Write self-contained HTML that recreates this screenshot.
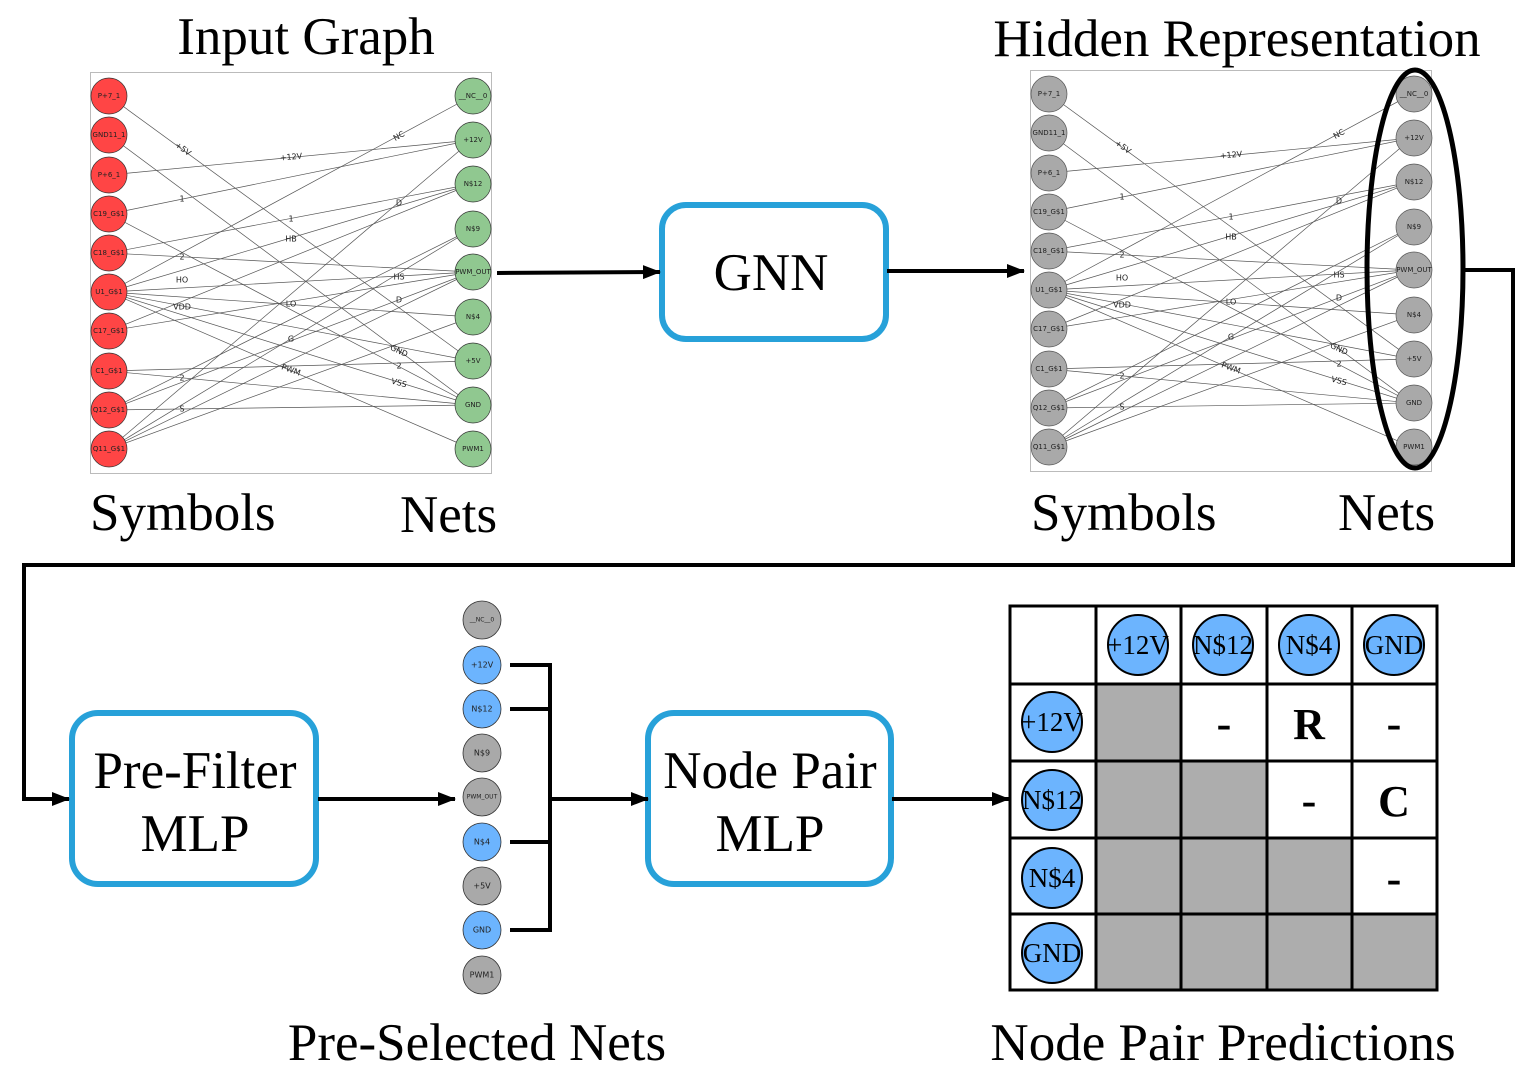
<!DOCTYPE html>
<html><head><meta charset="utf-8"><style>
html,body{margin:0;padding:0;background:#fff;}
svg{display:block;}
.t{font-family:"Liberation Serif",serif;fill:#000;}
.n{font-family:"DejaVu Sans","Liberation Sans",sans-serif;font-size:7px;fill:#222;text-anchor:middle;dominant-baseline:central;}
.el{font-family:"DejaVu Sans","Liberation Sans",sans-serif;font-size:8px;fill:#222;text-anchor:middle;dominant-baseline:central;}
.e line{stroke:#555;stroke-width:0.7;}
.tb{font-family:"Liberation Serif",serif;font-size:27px;text-anchor:middle;dominant-baseline:central;fill:#000;}
</style></head><body>
<svg width="1536" height="1084" viewBox="0 0 1536 1084" xmlns="http://www.w3.org/2000/svg">
<defs>
<marker id="ah2" markerWidth="18" markerHeight="14" refX="17" refY="7" orient="auto" markerUnits="userSpaceOnUse"><path d="M0,0 L18,7 L0,14 z" fill="#000"/></marker>
</defs>

<!-- Titles -->
<text class="t" x="306" y="54" font-size="53" text-anchor="middle">Input Graph</text>
<text class="t" x="1237" y="56" font-size="53" text-anchor="middle">Hidden Representation</text>
<text class="t" x="90" y="530" font-size="53">Symbols</text>
<text class="t" x="400" y="532" font-size="53">Nets</text>
<text class="t" x="1031" y="530" font-size="53">Symbols</text>
<text class="t" x="1338" y="530" font-size="53">Nets</text>
<text class="t" x="477" y="1060" font-size="53" text-anchor="middle">Pre-Selected Nets</text>
<text class="t" x="1223" y="1060" font-size="53" text-anchor="middle">Node Pair Predictions</text>

<!-- Input graph -->
<g id="g1">
<rect x="90.5" y="72.5" width="401" height="401" fill="#fff" stroke="#bbb" stroke-width="1"/>
<g class="e">
<line x1="109" y1="96" x2="472" y2="361"/>
<line x1="109" y1="135" x2="472" y2="405"/>
<line x1="109" y1="175" x2="472" y2="140"/>
<line x1="109" y1="214" x2="472" y2="140"/>
<line x1="109" y1="214" x2="472" y2="405"/>
<line x1="109" y1="253" x2="472" y2="184"/>
<line x1="109" y1="253" x2="472" y2="272"/>
<line x1="109" y1="292" x2="472" y2="96"/>
<line x1="109" y1="292" x2="472" y2="184"/>
<line x1="109" y1="292" x2="472" y2="272"/>
<line x1="109" y1="292" x2="472" y2="317"/>
<line x1="109" y1="292" x2="472" y2="361"/>
<line x1="109" y1="292" x2="472" y2="405"/>
<line x1="109" y1="292" x2="472" y2="449"/>
<line x1="109" y1="331" x2="472" y2="184"/>
<line x1="109" y1="331" x2="472" y2="272"/>
<line x1="109" y1="371" x2="472" y2="361"/>
<line x1="109" y1="371" x2="472" y2="405"/>
<line x1="109" y1="410" x2="472" y2="229"/>
<line x1="109" y1="410" x2="472" y2="272"/>
<line x1="109" y1="410" x2="472" y2="405"/>
<line x1="109" y1="449" x2="472" y2="140"/>
<line x1="109" y1="449" x2="472" y2="272"/>
<line x1="109" y1="449" x2="472" y2="317"/>
<line x1="109" y1="449" x2="472" y2="229"/>
</g>
<g>
<text class="el" x="183" y="149" transform="rotate(36 183 149)">+5V</text>
<text class="el" x="291" y="157" transform="rotate(-5 291 157)">+12V</text>
<text class="el" x="399" y="136" transform="rotate(-30 399 136)">NC</text>
<text class="el" x="182" y="199">1</text>
<text class="el" x="291" y="219">1</text>
<text class="el" x="399" y="203">D</text>
<text class="el" x="291" y="239">HB</text>
<text class="el" x="182" y="257">2</text>
<text class="el" x="182" y="280">HO</text>
<text class="el" x="182" y="307">VDD</text>
<text class="el" x="291" y="304">LO</text>
<text class="el" x="399" y="277">HS</text>
<text class="el" x="399" y="300">D</text>
<text class="el" x="291" y="339">G</text>
<text class="el" x="399" y="351" transform="rotate(25 399 351)">GND</text>
<text class="el" x="291" y="370" transform="rotate(20 291 370)">PWM</text>
<text class="el" x="399" y="366">2</text>
<text class="el" x="399" y="383" transform="rotate(15 399 383)">VSS</text>
<text class="el" x="182" y="378">2</text>
<text class="el" x="182" y="409">S</text>
</g>
<g fill="#ff4545" stroke="#333" stroke-width="0.7">
<circle cx="109" cy="96" r="18"/><circle cx="109" cy="135" r="18"/><circle cx="109" cy="175" r="18"/><circle cx="109" cy="214" r="18"/><circle cx="109" cy="253" r="18"/><circle cx="109" cy="292" r="18"/><circle cx="109" cy="331" r="18"/><circle cx="109" cy="371" r="18"/><circle cx="109" cy="410" r="18"/><circle cx="109" cy="449" r="18"/>
</g>
<g fill="#90c890" stroke="#333" stroke-width="0.7">
<circle cx="473" cy="96" r="18"/><circle cx="473" cy="140" r="18"/><circle cx="473" cy="184" r="18"/><circle cx="473" cy="229" r="18"/><circle cx="473" cy="272" r="18"/><circle cx="473" cy="317" r="18"/><circle cx="473" cy="361" r="18"/><circle cx="473" cy="405" r="18"/><circle cx="473" cy="449" r="18"/>
</g>
<g>
<text class="n" x="109" y="96">P+7_1</text><text class="n" x="109" y="135">GND11_1</text><text class="n" x="109" y="175">P+6_1</text><text class="n" x="109" y="214">C19_G$1</text><text class="n" x="109" y="253">C18_G$1</text><text class="n" x="109" y="292">U1_G$1</text><text class="n" x="109" y="331">C17_G$1</text><text class="n" x="109" y="371">C1_G$1</text><text class="n" x="109" y="410">Q12_G$1</text><text class="n" x="109" y="449">Q11_G$1</text>
<text class="n" x="473" y="96">__NC__0</text><text class="n" x="473" y="140">+12V</text><text class="n" x="473" y="184">N$12</text><text class="n" x="473" y="229">N$9</text><text class="n" x="473" y="272">PWM_OUT</text><text class="n" x="473" y="317">N$4</text><text class="n" x="473" y="361">+5V</text><text class="n" x="473" y="405">GND</text><text class="n" x="473" y="449">PWM1</text>
</g>
</g>

<!-- Hidden graph -->
<g transform="translate(940,-2)">
<rect x="90.5" y="72.5" width="401" height="401" fill="#fff" stroke="#bbb" stroke-width="1"/>
<g class="e">
<line x1="109" y1="96" x2="472" y2="361"/>
<line x1="109" y1="135" x2="472" y2="405"/>
<line x1="109" y1="175" x2="472" y2="140"/>
<line x1="109" y1="214" x2="472" y2="140"/>
<line x1="109" y1="214" x2="472" y2="405"/>
<line x1="109" y1="253" x2="472" y2="184"/>
<line x1="109" y1="253" x2="472" y2="272"/>
<line x1="109" y1="292" x2="472" y2="96"/>
<line x1="109" y1="292" x2="472" y2="184"/>
<line x1="109" y1="292" x2="472" y2="272"/>
<line x1="109" y1="292" x2="472" y2="317"/>
<line x1="109" y1="292" x2="472" y2="361"/>
<line x1="109" y1="292" x2="472" y2="405"/>
<line x1="109" y1="292" x2="472" y2="449"/>
<line x1="109" y1="331" x2="472" y2="184"/>
<line x1="109" y1="331" x2="472" y2="272"/>
<line x1="109" y1="371" x2="472" y2="361"/>
<line x1="109" y1="371" x2="472" y2="405"/>
<line x1="109" y1="410" x2="472" y2="229"/>
<line x1="109" y1="410" x2="472" y2="272"/>
<line x1="109" y1="410" x2="472" y2="405"/>
<line x1="109" y1="449" x2="472" y2="140"/>
<line x1="109" y1="449" x2="472" y2="272"/>
<line x1="109" y1="449" x2="472" y2="317"/>
<line x1="109" y1="449" x2="472" y2="229"/>
</g>
<g>
<text class="el" x="183" y="149" transform="rotate(36 183 149)">+5V</text>
<text class="el" x="291" y="157" transform="rotate(-5 291 157)">+12V</text>
<text class="el" x="399" y="136" transform="rotate(-30 399 136)">NC</text>
<text class="el" x="182" y="199">1</text>
<text class="el" x="291" y="219">1</text>
<text class="el" x="399" y="203">D</text>
<text class="el" x="291" y="239">HB</text>
<text class="el" x="182" y="257">2</text>
<text class="el" x="182" y="280">HO</text>
<text class="el" x="182" y="307">VDD</text>
<text class="el" x="291" y="304">LO</text>
<text class="el" x="399" y="277">HS</text>
<text class="el" x="399" y="300">D</text>
<text class="el" x="291" y="339">G</text>
<text class="el" x="399" y="351" transform="rotate(25 399 351)">GND</text>
<text class="el" x="291" y="370" transform="rotate(20 291 370)">PWM</text>
<text class="el" x="399" y="366">2</text>
<text class="el" x="399" y="383" transform="rotate(15 399 383)">VSS</text>
<text class="el" x="182" y="378">2</text>
<text class="el" x="182" y="409">S</text>
</g>
<g fill="#a9a9a9" stroke="#555" stroke-width="0.7">
<circle cx="109" cy="96" r="18"/><circle cx="109" cy="135" r="18"/><circle cx="109" cy="175" r="18"/><circle cx="109" cy="214" r="18"/><circle cx="109" cy="253" r="18"/><circle cx="109" cy="292" r="18"/><circle cx="109" cy="331" r="18"/><circle cx="109" cy="371" r="18"/><circle cx="109" cy="410" r="18"/><circle cx="109" cy="449" r="18"/>
<circle cx="474" cy="96" r="18"/><circle cx="474" cy="140" r="18"/><circle cx="474" cy="184" r="18"/><circle cx="474" cy="229" r="18"/><circle cx="474" cy="272" r="18"/><circle cx="474" cy="317" r="18"/><circle cx="474" cy="361" r="18"/><circle cx="474" cy="405" r="18"/><circle cx="474" cy="449" r="18"/>
</g>
<g>
<text class="n" x="109" y="96">P+7_1</text><text class="n" x="109" y="135">GND11_1</text><text class="n" x="109" y="175">P+6_1</text><text class="n" x="109" y="214">C19_G$1</text><text class="n" x="109" y="253">C18_G$1</text><text class="n" x="109" y="292">U1_G$1</text><text class="n" x="109" y="331">C17_G$1</text><text class="n" x="109" y="371">C1_G$1</text><text class="n" x="109" y="410">Q12_G$1</text><text class="n" x="109" y="449">Q11_G$1</text>
<text class="n" x="474" y="96">__NC__0</text><text class="n" x="474" y="140">+12V</text><text class="n" x="474" y="184">N$12</text><text class="n" x="474" y="229">N$9</text><text class="n" x="474" y="272">PWM_OUT</text><text class="n" x="474" y="317">N$4</text><text class="n" x="474" y="361">+5V</text><text class="n" x="474" y="405">GND</text><text class="n" x="474" y="449">PWM1</text>
</g>
</g>

<!-- Ellipse -->
<ellipse cx="1415" cy="269" rx="48" ry="199" fill="none" stroke="#000" stroke-width="5"/>

<!-- Boxes -->
<rect x="662" y="205" width="224" height="134" rx="24" fill="#fff" stroke="#27a1d9" stroke-width="6"/>
<text class="t" x="771" y="290" font-size="53" text-anchor="middle">GNN</text>
<rect x="72" y="713" width="244" height="171" rx="26" fill="#fff" stroke="#27a1d9" stroke-width="6"/>
<text class="t" x="195" y="788" font-size="53" text-anchor="middle">Pre-Filter</text>
<text class="t" x="195" y="851" font-size="53" text-anchor="middle">MLP</text>
<rect x="648" y="713" width="243" height="171" rx="26" fill="#fff" stroke="#27a1d9" stroke-width="6"/>
<text class="t" x="770" y="788" font-size="53" text-anchor="middle">Node Pair</text>
<text class="t" x="770" y="851" font-size="53" text-anchor="middle">MLP</text>

<!-- Connectors -->
<g stroke="#000" stroke-width="4" fill="none">
<line x1="497" y1="273" x2="660" y2="272" marker-end="url(#ah2)"/>
<line x1="887" y1="271" x2="1024" y2="271" marker-end="url(#ah2)"/>
<polyline points="1465,270 1513,270 1513,565 24,565 24,799 69,799" marker-end="url(#ah2)"/>
<line x1="318" y1="799" x2="455" y2="799" marker-end="url(#ah2)"/>
<polyline points="510,665 550,665 550,930 510,930"/>
<line x1="510" y1="709" x2="550" y2="709"/>
<line x1="510" y1="842" x2="550" y2="842"/>
<line x1="550" y1="799" x2="648" y2="799" marker-end="url(#ah2)"/>
<line x1="892" y1="799" x2="1009" y2="799" marker-end="url(#ah2)"/>
</g>

<!-- Pre-selected nets -->
<g stroke="#333" stroke-width="0.8">
<circle cx="482" cy="620" r="19" fill="#a9a9a9"/>
<circle cx="482" cy="665" r="19" fill="#6cb4fe"/>
<circle cx="482" cy="709" r="19" fill="#6cb4fe"/>
<circle cx="482" cy="753" r="19" fill="#a9a9a9"/>
<circle cx="482" cy="797" r="19" fill="#a9a9a9"/>
<circle cx="482" cy="842" r="19" fill="#6cb4fe"/>
<circle cx="482" cy="886" r="19" fill="#a9a9a9"/>
<circle cx="482" cy="930" r="19" fill="#6cb4fe"/>
<circle cx="482" cy="975" r="19" fill="#a9a9a9"/>
</g>
<g>
<text class="n" x="482" y="620" style="font-size:6px">__NC__0</text>
<text class="n" x="482" y="665" style="font-size:8px">+12V</text>
<text class="n" x="482" y="709" style="font-size:8px">N$12</text>
<text class="n" x="482" y="753" style="font-size:8px">N$9</text>
<text class="n" x="482" y="797" style="font-size:6px">PWM_OUT</text>
<text class="n" x="482" y="842" style="font-size:8px">N$4</text>
<text class="n" x="482" y="886" style="font-size:8px">+5V</text>
<text class="n" x="482" y="930" style="font-size:8px">GND</text>
<text class="n" x="482" y="975" style="font-size:8px">PWM1</text>
</g>

<!-- Table -->
<g fill="#adadad">
<rect x="1096" y="684" width="85" height="77"/>
<rect x="1096" y="761" width="171" height="77"/>
<rect x="1096" y="838" width="256" height="76"/>
<rect x="1096" y="914" width="341" height="76"/>
</g>
<g stroke="#000" stroke-width="3" fill="none">
<rect x="1010" y="606" width="427" height="384"/>
<line x1="1096" y1="606" x2="1096" y2="990"/>
<line x1="1181" y1="606" x2="1181" y2="990"/>
<line x1="1267" y1="606" x2="1267" y2="990"/>
<line x1="1352" y1="606" x2="1352" y2="990"/>
<line x1="1010" y1="684" x2="1437" y2="684"/>
<line x1="1010" y1="761" x2="1437" y2="761"/>
<line x1="1010" y1="838" x2="1437" y2="838"/>
<line x1="1010" y1="914" x2="1437" y2="914"/>
</g>
<g fill="#6cb4fe" stroke="#000" stroke-width="2">
<circle cx="1138" cy="645" r="30"/><circle cx="1223" cy="645" r="30"/><circle cx="1309" cy="645" r="30"/><circle cx="1394" cy="645" r="30"/>
<circle cx="1052" cy="722" r="30"/><circle cx="1052" cy="800" r="30"/><circle cx="1052" cy="878" r="30"/><circle cx="1052" cy="953" r="30"/>
</g>
<g>
<text class="tb" x="1138" y="645">+12V</text><text class="tb" x="1223" y="645">N$12</text><text class="tb" x="1309" y="645">N$4</text><text class="tb" x="1394" y="645">GND</text>
<text class="tb" x="1052" y="722">+12V</text><text class="tb" x="1052" y="800">N$12</text><text class="tb" x="1052" y="878">N$4</text><text class="tb" x="1052" y="953">GND</text>
</g>
<g class="t" font-weight="bold" text-anchor="middle">
<text x="1224" y="738" font-size="44">-</text>
<text x="1309" y="739" font-size="44">R</text>
<text x="1394" y="738" font-size="44">-</text>
<text x="1309" y="815" font-size="44">-</text>
<text x="1394" y="816" font-size="44">C</text>
<text x="1394" y="893" font-size="44">-</text>
</g>
</svg>
</body></html>
